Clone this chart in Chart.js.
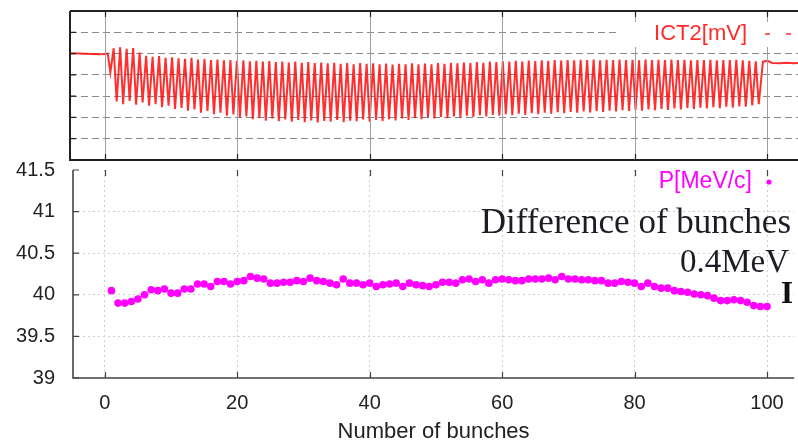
<!DOCTYPE html>
<html lang="en">
    <head>
        <title>Bunch momentum</title>
        <meta charset="UTF-8">
        <style>
            body { margin: 0; background: #fff; }
            .wrap { position: relative; width: 798px; height: 445px; overflow: hidden; }
            canvas { position: absolute; left: 0; }
            #ictChart { top: 0; }
            #pChart { top: 140px; }
        </style>
    </head>

    <body>
        <div class="wrap">
            <canvas id="ictChart" width="798" height="170"></canvas>
            <canvas id="pChart" width="798" height="305"></canvas>
        </div>

        <script src="https://cdn.jsdelivr.net/npm/chart.js@4.4.1/dist/chart.umd.min.js"></script>
        <script>
            // bunch index along the train
            const bunches = Array.from({length: 100}, (_, i) => i + 1);

            // measured momentum per bunch [MeV/c]
            const pMomentum = [
                40.05, 39.90, 39.90, 39.92, 39.95, 40.00, 40.06, 40.05, 40.07, 40.02,
                40.02, 40.07, 40.07, 40.13, 40.13, 40.10, 40.16, 40.16, 40.13, 40.16,
                40.17, 40.22, 40.20, 40.19, 40.14, 40.14, 40.15, 40.15, 40.17, 40.16,
                40.20, 40.17, 40.16, 40.14, 40.12, 40.19, 40.14, 40.14, 40.12, 40.14,
                40.10, 40.12, 40.13, 40.14, 40.10, 40.14, 40.12, 40.11, 40.10, 40.12,
                40.15, 40.15, 40.14, 40.18, 40.19, 40.16, 40.18, 40.14, 40.18, 40.19,
                40.18, 40.17, 40.17, 40.19, 40.19, 40.19, 40.20, 40.18, 40.22, 40.19,
                40.19, 40.18, 40.18, 40.17, 40.17, 40.14, 40.14, 40.16, 40.15, 40.14,
                40.10, 40.14, 40.10, 40.08, 40.08, 40.05, 40.04, 40.03, 40.01, 40.00,
                39.99, 39.96, 39.93, 39.93, 39.94, 39.93, 39.91, 39.87, 39.86, 39.86
            ];

            // ICT2 signal: peak and trough of each bunch [arb. mV]
            const ictPeak = [
                5.25, 5.30, 5.22, 5.26, 5.05, 4.90, 4.85, 4.88, 4.80, 4.82,
                4.78, 4.75, 4.80, 4.72, 4.74, 4.70, 4.72, 4.68, 4.70, 4.66,
                4.68, 4.64, 4.66, 4.62, 4.65, 4.60, 4.63, 4.58, 4.62, 4.57,
                4.60, 4.55, 4.58, 4.54, 4.57, 4.52, 4.56, 4.50, 4.55, 4.52,
                4.54, 4.50, 4.53, 4.48, 4.52, 4.50, 4.54, 4.49, 4.53, 4.50,
                4.55, 4.52, 4.56, 4.54, 4.58, 4.55, 4.60, 4.57, 4.62, 4.60,
                4.64, 4.62, 4.66, 4.63, 4.67, 4.65, 4.68, 4.66, 4.70, 4.67,
                4.70, 4.68, 4.71, 4.69, 4.72, 4.68, 4.71, 4.69, 4.72, 4.70,
                4.71, 4.68, 4.72, 4.70, 4.71, 4.69, 4.72, 4.70, 4.71, 4.68,
                4.70, 4.69, 4.71, 4.68, 4.70, 4.69, 4.71, 4.68, 4.66, 4.64
            ];
            const ictTrough = [
                2.75, 2.62, 2.78, 2.60, 2.70, 2.55, 2.62, 2.48, 2.55, 2.40,
                2.45, 2.32, 2.38, 2.22, 2.30, 2.15, 2.22, 2.08, 2.14, 2.00,
                2.05, 1.92, 1.98, 1.85, 1.95, 1.82, 1.90, 1.80, 1.88, 1.78,
                1.86, 1.76, 1.84, 1.80, 1.88, 1.78, 1.85, 1.82, 1.90, 1.80,
                1.88, 1.84, 1.92, 1.86, 1.95, 1.88, 1.98, 1.92, 2.00, 1.95,
                2.02, 1.96, 2.05, 2.00, 2.08, 2.02, 2.10, 2.05, 2.12, 2.08,
                2.15, 2.10, 2.18, 2.12, 2.20, 2.15, 2.22, 2.18, 2.25, 2.20,
                2.26, 2.22, 2.28, 2.24, 2.30, 2.26, 2.32, 2.28, 2.34, 2.30,
                2.36, 2.32, 2.38, 2.34, 2.40, 2.35, 2.42, 2.38, 2.44, 2.40,
                2.46, 2.42, 2.48, 2.44, 2.50, 2.46, 2.52, 2.50, 2.56, 2.62
            ];
            // baseline before and after the train
            const ictLeadX = [-6, -4, -2, -1, 0, 0.4, 0.8];
            const ictLead = [5.02, 5.00, 4.98, 4.97, 4.98, 5.00, 4.12];
            const ictTailX = [99.4, 100.1, 100.8, 102, 103, 104, 105];
            const ictTail = [4.62, 4.66, 4.56, 4.55, 4.57, 4.55, 4.56];

            const xTicks = [0, 20, 40, 60, 80, 100];
            const pTicks = [39, 39.5, 40, 40.5, 41, 41.5];
            const ictGrid = [1, 2, 3, 4, 5, 6];

            const sans = "'Liberation Sans', Arial, sans-serif";
            const serif = "'Liberation Serif', 'Times New Roman', serif";

            // one zigzag per bunch: up to the peak, down to the trough
            const ictPoints = [];
            ictLead.forEach((v, i) => ictPoints.push({x: ictLeadX[i], y: v}));
            ictPeak.forEach((v, i) => {
                const t = 1.3 + i * 0.98;
                ictPoints.push({x: t, y: v});
                ictPoints.push({x: t + 0.45, y: ictTrough[i]});
            });
            ictTail.forEach((v, i) => ictPoints.push({x: ictTailX[i], y: v}));

            const setTicks = values => scale => {
                scale.ticks = values.map(v => ({value: v}));
            };

            // gnuplot style frame with inward tick marks;
            // the upper panel also gets vertical grid lines
            const frame = {
                id: 'frame',
                afterDraw(chart, args, opts) {
                    const {ctx, chartArea: a, scales: {x, y}} = chart;
                    const xs = x.ticks.map(t => Math.round(x.getPixelForValue(t.value)) + 0.5);
                    ctx.save();
                    if (opts.top) {
                        ctx.strokeStyle = '#a0a0a0';
                        ctx.lineWidth = 1;
                        xs.forEach(px => {
                            ctx.beginPath();
                            ctx.moveTo(px, a.top);
                            ctx.lineTo(px, a.bottom);
                            ctx.stroke();
                        });
                    }
                    ctx.strokeStyle = opts.color;
                    ctx.lineWidth = 1.2;
                    ctx.beginPath();
                    xs.forEach(px => {
                        ctx.moveTo(px, a.bottom); ctx.lineTo(px, a.bottom - 6);
                        ctx.moveTo(px, a.top); ctx.lineTo(px, a.top + 6);
                    });
                    y.ticks.forEach(t => {
                        const py = y.getPixelForValue(t.value);
                        ctx.moveTo(a.left, py); ctx.lineTo(a.left + 6, py);
                    });
                    ctx.stroke();
                    ctx.lineWidth = opts.width;
                    ctx.beginPath();
                    ctx.moveTo(a.left, a.top); ctx.lineTo(a.left, a.bottom);
                    ctx.lineTo(a.right, a.bottom);
                    if (opts.top) {
                        ctx.moveTo(a.left, a.top); ctx.lineTo(a.right, a.top);
                    }
                    ctx.stroke();
                    ctx.restore();
                }
            };

            // key entries and the text notes
            const notes = {
                id: 'notes',
                afterDraw(chart, args, opts) {
                    const ctx = chart.ctx;
                    ctx.save();
                    (opts.clear || []).forEach(r => {
                        ctx.fillStyle = '#fff';
                        ctx.fillRect(r[0], r[1], r[2], r[3]);
                    });
                    (opts.items || []).forEach(it => {
                        ctx.font = it.font;
                        ctx.fillStyle = it.color;
                        ctx.textAlign = it.align || 'left';
                        ctx.textBaseline = it.baseline || 'alphabetic';
                        ctx.fillText(it.text, it.x, it.y);
                    });
                    if (opts.dash) {
                        const d = opts.dash;
                        ctx.strokeStyle = d.color;
                        ctx.lineWidth = 1.5;
                        ctx.setLineDash([5, 16]);
                        ctx.beginPath();
                        ctx.moveTo(d.x0, d.y); ctx.lineTo(d.x1, d.y);
                        ctx.stroke();
                    }
                    if (opts.dot) {
                        ctx.fillStyle = opts.dot.color;
                        ctx.beginPath();
                        ctx.arc(opts.dot.x, opts.dot.y, 2.6, 0, Math.PI * 2);
                        ctx.fill();
                    }
                    ctx.restore();
                }
            };

            new Chart(document.getElementById('ictChart'), {
                type: 'scatter',
                data: {
                    datasets: [{
                        label: 'ICT2[mV]',
                        data: ictPoints,
                        showLine: true,
                        borderColor: 'rgba(255, 10, 10, 0.85)',
                        borderWidth: 2,
                        pointRadius: 0,
                        tension: 0
                    }]
                },
                options: {
                    responsive: false,
                    animation: false,
                    events: [],
                    layout: { padding: { left: 70, top: 11, right: 0, bottom: 10 } },
                    plugins: {
                        legend: { display: false },
                        tooltip: { enabled: false },
                        frame: { color: '#222', width: 2, top: true },
                        notes: {
                            clear: [[617, 22, 181, 25]],
                            items: [
                                { text: 'ICT2[mV]', x: 747, y: 34, font: '22px ' + sans, color: '#ff2a2a', align: 'right', baseline: 'middle' }
                            ],
                            dash: { x0: 765, x1: 800, y: 34, color: '#ff2a2a' }
                        }
                    },
                    scales: {
                        x: {
                            type: 'linear',
                            min: -5.3,
                            max: 104.7,
                            afterBuildTicks: setTicks(xTicks),
                            ticks: { display: false },
                            grid: { display: false, drawTicks: false },
                            border: { display: false }
                        },
                        y: {
                            min: 0,
                            max: 7,
                            afterBuildTicks: setTicks(ictGrid),
                            ticks: { display: false },
                            grid: { color: '#888', lineWidth: 1, drawTicks: false },
                            border: { display: false, dash: [7, 4] }
                        }
                    }
                },
                plugins: [frame, notes]
            });

            new Chart(document.getElementById('pChart'), {
                type: 'scatter',
                data: {
                    datasets: [{
                        label: 'P[MeV/c]',
                        data: pMomentum.map((v, i) => ({x: bunches[i], y: v})),
                        backgroundColor: '#ff00ff',
                        borderColor: '#ff00ff',
                        borderWidth: 0,
                        pointRadius: 3.8,
                        pointHoverRadius: 3.8
                    }]
                },
                options: {
                    responsive: false,
                    animation: false,
                    events: [],
                    layout: { padding: { left: 0, top: 20, right: 0, bottom: 0 } },
                    plugins: {
                        legend: { display: false },
                        tooltip: { enabled: false },
                        frame: { color: '#444', width: 1.6, top: false },
                        notes: {
                            items: [
                                { text: 'P[MeV/c]', x: 752, y: 42, font: '23px ' + sans, color: '#ff00ff', align: 'right', baseline: 'middle' },
                                { text: 'Difference of bunches', x: 791, y: 93, font: '35px ' + serif, color: '#1c1c26', align: 'right' },
                                { text: '0.4MeV', x: 789, y: 132, font: '33px ' + serif, color: '#1c1c26', align: 'right' },
                                { text: 'I', x: 781, y: 163, font: 'bold 31px ' + serif, color: '#111', align: 'left' }
                            ],
                            dot: { x: 769, y: 42, color: '#ff00ff' }
                        }
                    },
                    scales: {
                        x: {
                            type: 'linear',
                            min: -4.8,
                            max: 104.1,
                            afterBuildTicks: setTicks(xTicks),
                            afterFit: s => { s.height = 67; },
                            ticks: {
                                padding: 13,
                                color: '#222',
                                font: { family: sans, size: 20 },
                                callback: v => String(v)
                            },
                            grid: { color: '#cfcfcf', lineWidth: 1, drawTicks: false },
                            border: { display: false, dash: [2, 3] },
                            title: {
                                display: true,
                                text: 'Number of bunches',
                                color: '#222',
                                font: { family: sans, size: 22 },
                                padding: { top: 0, bottom: 0 }
                            }
                        },
                        y: {
                            min: 39,
                            max: 41.5,
                            afterBuildTicks: setTicks(pTicks),
                            afterFit: s => { s.width = 73; },
                            ticks: {
                                padding: 18,
                                color: '#222',
                                font: { family: sans, size: 20 },
                                callback: v => String(v)
                            },
                            grid: {
                                color: c => (c.tick && (c.tick.value === 39 || c.tick.value === 41.5)) ? 'rgba(0,0,0,0)' : '#cfcfcf',
                                lineWidth: 1,
                                drawTicks: false
                            },
                            border: { display: false, dash: [2, 3] }
                        }
                    }
                },
                plugins: [frame, notes]
            });
        </script>
    </body>
</html>
